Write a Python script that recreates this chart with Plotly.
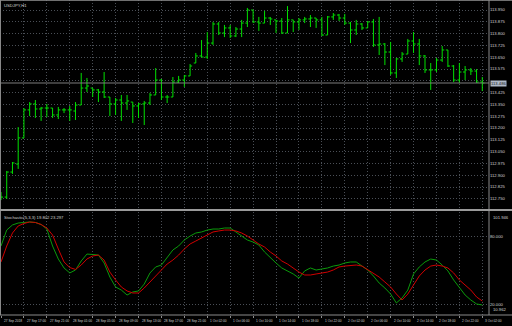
import plotly.graph_objects as go

# ---------------- data ----------------
symbol_title = "USDJPY,H1"
stoch_title = "Stochastic(5,3,3) 19.802 23.297"

bar_index = list(range(85))

open_ = [112.781, 112.761, 112.920, 112.971, 113.137, 113.315, 113.353, 113.321, 113.327, 113.327,
         113.283, 113.315, 113.315, 113.308, 113.346, 113.454, 113.454, 113.442, 113.429, 113.397,
         113.353, 113.378, 113.359, 113.365, 113.340, 113.353, 113.359, 113.410, 113.505, 113.397,
         113.397, 113.492, 113.505, 113.531, 113.613, 113.658, 113.651, 113.740, 113.861, 113.804,
         113.836, 113.785, 113.829, 113.867, 113.950, 113.874, 113.867, 113.899, 113.887, 113.880,
         113.804, 113.887, 113.874, 113.887, 113.893, 113.899, 113.887, 113.791, 113.906, 113.918,
         113.899, 113.867, 113.823, 113.861, 113.836, 113.874, 113.728, 113.734, 113.683, 113.550,
         113.639, 113.670, 113.753, 113.734, 113.658, 113.569, 113.569, 113.632, 113.696, 113.594,
         113.505, 113.556, 113.569, 113.562, 113.492]
high = [112.793, 112.927, 112.984, 113.206, 113.327, 113.365, 113.378, 113.334, 113.353, 113.327,
        113.334, 113.327, 113.340, 113.365, 113.550, 113.518, 113.454, 113.448, 113.556, 113.397,
        113.391, 113.410, 113.410, 113.365, 113.359, 113.372, 113.423, 113.581, 113.512, 113.410,
        113.524, 113.531, 113.537, 113.607, 113.677, 113.759, 113.810, 113.874, 113.874, 113.855,
        113.855, 113.842, 113.887, 113.963, 113.950, 113.906, 113.944, 113.906, 113.887, 113.899,
        113.975, 113.887, 113.899, 113.906, 113.918, 113.899, 113.906, 113.912, 113.931, 113.925,
        113.925, 113.874, 113.887, 113.867, 113.880, 113.893, 113.906, 113.740, 113.747, 113.645,
        113.683, 113.766, 113.810, 113.766, 113.664, 113.613, 113.645, 113.721, 113.696, 113.600,
        113.613, 113.594, 113.581, 113.575, 113.524]
low = [112.742, 112.749, 112.908, 112.940, 113.137, 113.276, 113.264, 113.245, 113.270, 113.264,
       113.257, 113.295, 113.245, 113.251, 113.346, 113.429, 113.397, 113.365, 113.391, 113.276,
       113.283, 113.245, 113.315, 113.232, 113.264, 113.219, 113.346, 113.410, 113.378, 113.359,
       113.397, 113.486, 113.461, 113.531, 113.613, 113.651, 113.639, 113.728, 113.791, 113.778,
       113.772, 113.778, 113.778, 113.842, 113.867, 113.817, 113.867, 113.855, 113.804, 113.798,
       113.804, 113.810, 113.823, 113.867, 113.842, 113.836, 113.785, 113.791, 113.887, 113.880,
       113.855, 113.740, 113.791, 113.823, 113.836, 113.715, 113.664, 113.600, 113.537, 113.518,
       113.620, 113.670, 113.677, 113.600, 113.550, 113.442, 113.556, 113.620, 113.588, 113.492,
       113.486, 113.505, 113.537, 113.486, 113.435]
close = [112.761, 112.920, 112.978, 113.137, 113.315, 113.353, 113.321, 113.327, 113.327, 113.283,
         113.315, 113.315, 113.315, 113.346, 113.454, 113.467, 113.442, 113.429, 113.397, 113.353,
         113.378, 113.359, 113.372, 113.340, 113.353, 113.359, 113.410, 113.505, 113.397, 113.397,
         113.492, 113.505, 113.531, 113.594, 113.658, 113.651, 113.740, 113.861, 113.804, 113.836,
         113.785, 113.829, 113.867, 113.950, 113.874, 113.867, 113.899, 113.893, 113.880, 113.804,
         113.887, 113.874, 113.887, 113.893, 113.899, 113.887, 113.791, 113.906, 113.918, 113.899,
         113.867, 113.823, 113.861, 113.836, 113.874, 113.728, 113.734, 113.683, 113.550, 113.639,
         113.670, 113.753, 113.734, 113.658, 113.569, 113.569, 113.632, 113.696, 113.594, 113.505,
         113.556, 113.569, 113.562, 113.492, 113.486]

stoch_main = [71.9, 86.0, 90.5, 92.2, 92.7, 93.1, 92.7, 90.9, 86.9, 71.9,
              60.4, 52.5, 48.1, 50.7, 58.7, 64.8, 64.4, 63.9, 56.9, 44.5,
              35.7, 33.0, 28.6, 31.3, 32.2, 38.3, 48.1, 53.4, 55.1, 61.3,
              68.4, 71.9, 77.2, 80.7, 83.4, 84.3, 86.0, 86.9, 86.9, 87.8,
              87.8, 84.3, 80.7, 77.2, 75.4, 72.8, 66.6, 61.3, 56.9, 52.5,
              49.9, 47.2, 43.6, 49.9, 52.5, 50.7, 51.6, 52.5, 54.2, 55.1,
              56.9, 57.8, 57.8, 54.2, 50.7, 45.4, 39.2, 34.8, 29.5, 21.6,
              26.0, 33.0, 47.2, 53.4, 57.8, 60.4, 59.5, 55.1, 49.9, 41.9,
              34.8, 28.6, 24.2, 20.7, 19.8]
stoch_signal = [57.8, 71.9, 83.4, 89.6, 91.8, 93.1, 92.7, 90.9, 87.8, 81.6,
                69.3, 57.8, 52.9, 51.2, 55.1, 60.4, 63.1, 63.9, 59.5, 48.9,
                41.9, 35.7, 32.2, 30.4, 30.4, 34.8, 40.1, 45.4, 50.7, 56.0,
                59.5, 63.9, 69.3, 73.7, 76.3, 78.9, 81.6, 84.3, 85.2, 86.0,
                86.0, 85.2, 83.4, 80.7, 77.2, 73.7, 71.0, 66.6, 63.1, 58.7,
                56.0, 52.5, 48.9, 46.3, 46.3, 47.2, 48.1, 48.9, 50.7, 53.4,
                54.2, 54.7, 55.1, 54.2, 50.7, 47.2, 44.5, 40.1, 35.7, 29.5,
                24.2, 29.5, 37.4, 45.4, 50.7, 54.2, 55.1, 54.2, 52.5, 48.1,
                41.9, 37.4, 33.0, 26.9, 23.3]

time_labels = ["27 Sep 2018", "27 Sep 17:00", "27 Sep 21:00", "28 Sep 01:00", "28 Sep 05:00",
               "28 Sep 09:00", "28 Sep 13:00", "28 Sep 17:00", "28 Sep 21:00", "1 Oct 02:00",
               "1 Oct 06:00", "1 Oct 10:00", "1 Oct 14:00", "1 Oct 18:00", "1 Oct 22:00",
               "2 Oct 02:00", "2 Oct 06:00", "2 Oct 10:00", "2 Oct 14:00", "2 Oct 18:00",
               "2 Oct 22:00", "3 Oct 02:00"]
label_every = 4

price_ticks = [113.950, 113.875, 113.800, 113.725, 113.650, 113.575, 113.500, 113.425, 113.350,
               113.275, 113.200, 113.125, 113.050, 112.975, 112.900, 112.825, 112.750]
price_range = [112.6916, 114.0136]

stoch_levels = [80, 20]
stoch_level_text = ["80.000", "20.000"]
stoch_range = [10.962, 101.946]

# ---------------- styling ----------------
BG = "#000000"
GRID = "#4a4f56"
GRID_DASH = "1px,2px"
FRAME = "#8a8a8a"
TXT = "#d2d2d2"
BAR = "#00e000"
FONT = "Liberation Sans"

W, H = 512, 326
ML, MR, MT, MB = 0, 23, 0, 11
plot_w = W - ML - MR
plot_h = H - MT - MB

main_dom = [1 - 208 / plot_h, 1.0]
stoch_dom = [0.0, (315 - 212) / plot_h]
xr = [-0.175, 85.17]

fig = go.Figure()

fig.add_trace(go.Ohlc(
    x=bar_index, open=open_, high=high, low=low, close=close,
    xaxis="x", yaxis="y", tickwidth=0.36, hoverinfo="skip",
    increasing=dict(line=dict(color=BAR, width=1)),
    decreasing=dict(line=dict(color=BAR, width=1)),
))
fig.add_trace(go.Scatter(x=bar_index, y=stoch_main, xaxis="x2", yaxis="y2", mode="lines",
                         line=dict(color="#0b9a0b", width=1), hoverinfo="skip"))
fig.add_trace(go.Scatter(x=bar_index, y=stoch_signal, xaxis="x2", yaxis="y2", mode="lines",
                         line=dict(color="#d00000", width=1), hoverinfo="skip"))

tickpos = list(range(0, len(bar_index), label_every))

common_x = dict(range=xr, tickvals=tickpos, showticklabels=False, showgrid=True,
                gridcolor=GRID, griddash=GRID_DASH, gridwidth=1, zeroline=False,
                showline=False, fixedrange=True)

# hide the grid label that sits under the current-price box
price_text = ["" if abs(p - close[-1]) < 0.03 else f"{p:.3f}" for p in price_ticks]

fig.update_layout(
    width=W, height=H,
    margin=dict(l=ML, r=MR, t=MT, b=MB, pad=0),
    paper_bgcolor=BG, plot_bgcolor=BG, showlegend=False,
    font=dict(family=FONT, color=TXT, size=4),
    xaxis=dict(domain=[0, 1], anchor="y", rangeslider=dict(visible=False), **common_x),
    xaxis2=dict(domain=[0, 1], anchor="y2", matches="x", ticks="outside", ticklen=2,
                tickcolor=FRAME, **common_x),
    yaxis=dict(domain=main_dom, anchor="x", range=price_range, side="right",
               tickvals=price_ticks, ticktext=price_text, ticks="",
               tickfont=dict(size=4.2, color=TXT, family=FONT),
               showgrid=True, gridcolor=GRID, griddash=GRID_DASH, gridwidth=1,
               zeroline=False, fixedrange=True),
    yaxis2=dict(domain=stoch_dom, anchor="x2", range=stoch_range, side="right",
                tickvals=stoch_levels, ticktext=stoch_level_text, ticks="",
                tickfont=dict(size=4.2, color=TXT, family=FONT),
                showgrid=True, gridcolor=GRID, griddash=GRID_DASH, gridwidth=1,
                zeroline=False, fixedrange=True),
)

xr_right = W / plot_w  # paper x of the right image edge
sep_y = (plot_h - 210) / plot_h

shapes = [
    dict(type="line", xref="paper", yref="y", x0=0, x1=1, y0=close[-1], y1=close[-1],
         line=dict(color="#7c7c7c", width=1)),
    dict(type="line", xref="paper", yref="paper", x0=0.001, x1=0.001, y0=0, y1=1,
         line=dict(color=FRAME, width=1)),
    dict(type="line", xref="paper", yref="paper", x0=0, x1=xr_right, y0=0.999, y1=0.999,
         line=dict(color=FRAME, width=1)),
    dict(type="line", xref="paper", yref="paper", x0=1, x1=1, y0=0, y1=1,
         line=dict(color=FRAME, width=1)),
    dict(type="line", xref="paper", yref="paper", x0=0, x1=xr_right, y0=0, y1=0,
         line=dict(color=FRAME, width=1)),
    dict(type="line", xref="paper", yref="paper", x0=0, x1=xr_right, y0=sep_y, y1=sep_y,
         line=dict(color="#9a9a9a", width=2)),
]
fig.update_layout(shapes=shapes)

ann = [
    dict(text=symbol_title, xref="paper", yref="paper", x=0, y=1, xanchor="left",
         yanchor="top", xshift=2, yshift=-1, showarrow=False,
         font=dict(size=4.2, color=TXT, family=FONT)),
    dict(text=stoch_title, xref="paper", yref="paper", x=0, y=stoch_dom[1], xanchor="left",
         yanchor="top", xshift=2, yshift=-1, showarrow=False,
         font=dict(size=4.2, color=TXT, family=FONT)),
    dict(text=f"{close[-1]:.3f}", xref="paper", yref="y", x=1, y=close[-1], xanchor="left",
         yanchor="middle", xshift=1, showarrow=False, bgcolor="#aeb8c6", borderpad=0,
         font=dict(size=4.2, color="#1a1a1a", family=FONT)),
    dict(text=f"{stoch_range[1]:.3f}", xref="paper", yref="y2", x=1, y=stoch_range[1],
         xanchor="left", yanchor="top", xshift=2, yshift=-1, showarrow=False,
         font=dict(size=4.2, color=TXT, family=FONT)),
    dict(text=f"{stoch_range[0]:.3f}", xref="paper", yref="y2", x=1, y=stoch_range[0],
         xanchor="left", yanchor="bottom", xshift=2, yshift=1, showarrow=False,
         font=dict(size=4.2, color=TXT, family=FONT)),
]
for k, lab in enumerate(time_labels):
    ann.append(dict(text=lab, xref="x2", yref="paper", x=tickpos[k], y=0, xanchor="left",
                    yanchor="top", xshift=1, yshift=-2, showarrow=False,
                    font=dict(size=3.2, color=TXT, family=FONT)))
fig.update_layout(annotations=ann)

fig.write_html("out.html")
